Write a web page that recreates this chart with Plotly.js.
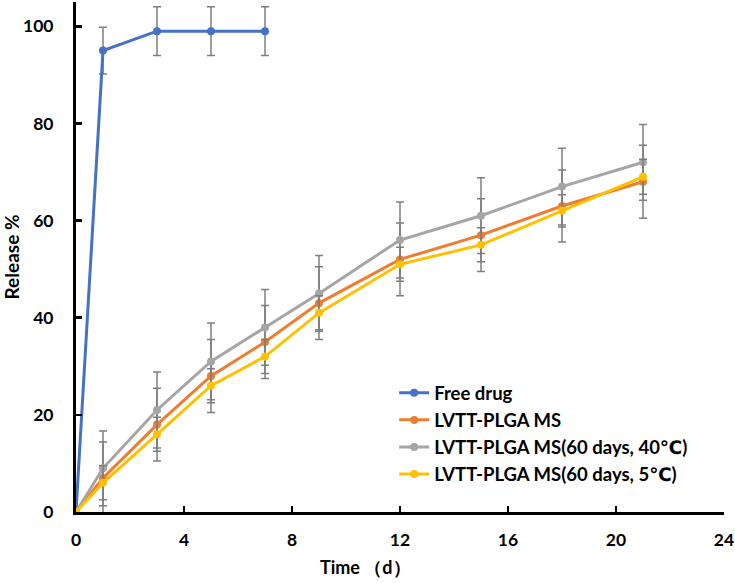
<!DOCTYPE html>
<html>
<head>
<meta charset="utf-8">
<script src="https://cdn.plot.ly/plotly-3.0.1.min.js"></script>
<style>html,body{margin:0;padding:0;background:#fff;}#chart{width:735px;height:583px;}</style>
</head>
<body>
<div id="chart"></div>
<script>
const seriesNames = ["Free drug", "LVTT-PLGA MS", "LVTT-PLGA MS(60 days, 40℃)", "LVTT-PLGA MS(60 days, 5℃)"];
const seriesColors = ["#4472C4", "#ED7D31", "#A5A5A5", "#FFC000"];

const freeX = [0, 1, 3, 5, 7];
const freeY = [0, 95, 99, 99, 99];
const freeErr = [0, 4.8, 5, 5, 5];

const msX = [0, 1, 3, 5, 7, 9, 12, 15, 18, 21];
const msY = [0, 7, 18, 28, 35, 43, 52, 57, 63, 68];
const msErr = [0, 7.4, 7.5, 7.5, 7.5, 7.5, 7.5, 7.5, 7.4, 7.5];

const hotY = [0, 9, 21, 31, 38, 45, 56, 61, 67, 72];
const hotErr = [0, 7.7, 7.8, 7.9, 7.8, 7.8, 7.8, 7.8, 7.9, 7.8];

const coldY = [0, 6, 16, 26, 32, 41, 51, 55, 62, 69];
const coldErr = [0, 3.5, 3.5, 3.5, 3.5, 3.5, 3.5, 3.5, 3.3, 3.6];

const xTicks = [0, 4, 8, 12, 16, 20, 24];
const yTicks = [0, 20, 40, 60, 80, 100];

const FONT = "Lato, 'Open Sans', 'DejaVu Sans', sans-serif";

function mk(name, color, x, y, err, grp) {
  return {
    type: "scatter", mode: "lines+markers", name: name, legendgroup: grp,
    x: x, y: y,
    line: {color: color, width: 3},
    marker: {color: color, size: 8, symbol: "circle"},
    error_y: {type: "data", array: err, visible: true, color: "#7F7F7F", thickness: 1.5, width: 4}
  };
}

const data = [
  mk(seriesNames[0], seriesColors[0], freeX, freeY, freeErr, "g0"),
  mk(seriesNames[1], seriesColors[1], msX, msY, msErr, "g1"),
  mk(seriesNames[2], seriesColors[2], msX, hotY, hotErr, "g2"),
  mk(seriesNames[3], seriesColors[3], msX, coldY, coldErr, "g3")
];

const layout = {
  width: 735, height: 583,
  margin: {l: 76, r: 11, t: 2, b: 71},
  paper_bgcolor: "#fff", plot_bgcolor: "#fff",
  font: {family: FONT, color: "#000", size: 17, weight: "bold"},
  showlegend: true,
  legend: {
    x: 0.491, y: 0.27, xanchor: "left", yanchor: "top",
    bgcolor: "rgba(0,0,0,0)", borderwidth: 0,
    font: {family: FONT, size: 18.5, color: "#000", weight: "bold"},
    tracegroupgap: 4, itemwidth: 30, traceorder: "normal"
  },
  xaxis: {
    range: [0, 24], tickvals: xTicks, ticktext: xTicks.map(String),
    showgrid: false, zeroline: false,
    showline: true, linecolor: "#000", linewidth: 3,
    ticks: "inside", ticklen: 6, tickwidth: 2.5, tickcolor: "#000",
    tickfont: {family: FONT, size: 17.5, color: "#000", weight: "bold"},
    ticklabelstandoff: 10
  },
  yaxis: {
    range: [0, 105], tickvals: yTicks, ticktext: yTicks.map(String),
    showgrid: false, zeroline: false,
    showline: true, linecolor: "#000", linewidth: 3,
    ticks: "inside", ticklen: 6, tickwidth: 2.5, tickcolor: "#000",
    tickfont: {family: FONT, size: 17.5, color: "#000", weight: "bold"},
    ticklabelstandoff: 16,
    title: {text: "Release %", font: {family: FONT, size: 19, color: "#000", weight: "bold"}, standoff: 11}
  },
  annotations: [{
    xref: "paper", yref: "paper", x: 0.447, y: -0.108, xanchor: "center", yanchor: "middle",
    text: "Time （d）", showarrow: false,
    font: {family: FONT, size: 18, color: "#000", weight: "bold"}
  }]
};

Plotly.newPlot("chart", data, layout, {displayModeBar: false, staticPlot: true});
</script>
</body>
</html>
